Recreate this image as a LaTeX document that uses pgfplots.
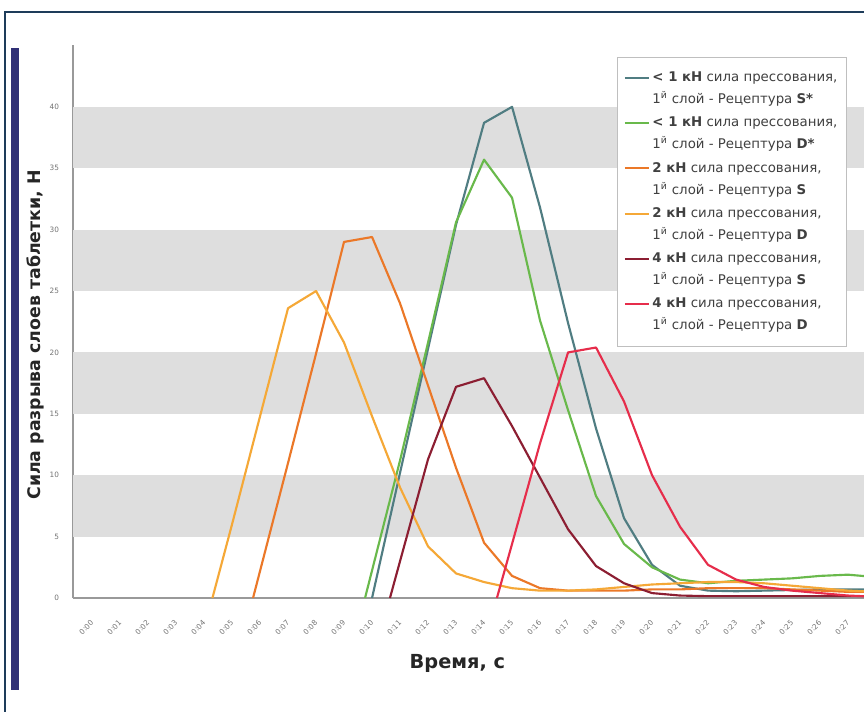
\documentclass[border=0pt]{standalone}
\usepackage{fontspec}
\setmainfont{DejaVu Sans}
\usepackage{pgfplots}
\pgfplotsset{compat=1.18}
\definecolor{cSa}{RGB}{80,125,130}
\definecolor{cDa}{RGB}{105,185,75}
\definecolor{cSb}{RGB}{235,120,40}
\definecolor{cDb}{RGB}{245,168,55}
\definecolor{cSc}{RGB}{140,30,50}
\definecolor{cDc}{RGB}{230,45,75}
\definecolor{frame}{RGB}{30,60,90}
\definecolor{bar}{RGB}{48,48,118}
\definecolor{band}{RGB}{222,222,222}
\newcommand{\legtext}[2]{\textbf{#1} сила прессования,\\1\textsuperscript{й} слой - Рецептура \textbf{#2}}
\begin{document}
\begin{tikzpicture}
\useasboundingbox (0,0) rectangle (648pt,533.25pt);
\fill[white] (0,0) rectangle (648pt,533.25pt);
\draw[frame, line width=1.6pt] (3.75pt,-2pt) -- (3.75pt,524.25pt) -- (652pt,524.25pt);
\fill[bar] (8.25pt,15.75pt) rectangle (14.25pt,497.25pt);
\begin{axis}[
  scale only axis,
  width=593.25pt, height=414.4pt,
  at={(54.75pt,84.75pt)}, anchor=south west,
  xmin=-0.68, xmax=27.57, ymin=0, ymax=45,
  axis lines*=left,
  axis line style={draw=black!40, line width=0.9pt},
  clip=true,
  ytick={0,5,...,40},
  xtick={0,...,28},
  xticklabels={0:00,0:01,0:02,0:03,0:04,0:05,0:06,0:07,0:08,0:09,0:10,0:11,0:12,0:13,0:14,0:15,0:16,0:17,0:18,0:19,0:20,0:21,0:22,0:23,0:24,0:25,0:26,0:27,0:28},
  major tick length=0pt,
  /pgf/number format/assume math mode=true,
  tick label style={text=black!55, font=\fontsize{5.5}{6}\selectfont},
  x tick label style={rotate=45, anchor=north east, xshift=-9pt, yshift=-7pt},
  y tick label style={xshift=-7pt},
  xlabel={Время, с},
  ylabel={Сила разрыва слоев таблетки, Н},
  label style={text=black!85},
  xlabel style={font=\bfseries\fontsize{14.5}{16}\selectfont, at={(axis description cs:0.486,-0.1176)}, anchor=center},
  ylabel style={font=\bfseries\fontsize{13}{15}\selectfont, at={(axis description cs:-0.048,0.476)}, anchor=center, rotate=0},
  legend style={at={(axis description cs:0.6877,0.979)}, anchor=north west,
    draw=black!25, fill=white, text=black!75,
    font=\fontsize{10}{16.5}\selectfont, row sep=4.5pt, inner xsep=5pt, inner ysep=9pt,
    cells={align=left, anchor=west},
    /tikz/every even column/.append style={column sep=3pt}},
  legend image code/.code={\draw[#1, line width=1.4pt] (0pt,8pt) -- (18pt,8pt);},
  every axis plot/.append style={line width=1.6pt, line join=round},
]
\fill[band] (axis cs:-1,5) rectangle (axis cs:29,10);
\fill[band] (axis cs:-1,15) rectangle (axis cs:29,20);
\fill[band] (axis cs:-1,25) rectangle (axis cs:29,30);
\fill[band] (axis cs:-1,35) rectangle (axis cs:29,40);

\addplot[cSa] table {
10 0
11 10.2
12 20.3
13 30.4
14 38.7
15 40.0
16 31.8
17 22.4
18 13.8
19 6.5
20 2.7
21 1.0
22 0.6
23 0.55
24 0.6
25 0.65
26 0.7
27 0.7
28 0.7
};
\addlegendentry{\legtext{< 1 кН}{S*}}

\addplot[cDa] table {
9.75 0
11 11.2
12 20.8
13 30.6
14 35.7
15 32.6
16 22.6
17 15.3
18 8.3
19 4.4
20 2.5
21 1.5
22 1.2
23 1.4
24 1.5
25 1.6
26 1.8
27 1.9
28 1.7
};
\addlegendentry{\legtext{< 1 кН}{D*}}

\addplot[cSb] table {
5.75 0
7 11.0
8 19.9
9 29.0
10 29.4
11 24.0
12 17.3
13 10.6
14 4.5
15 1.8
16 0.8
17 0.6
18 0.6
19 0.6
20 0.7
21 0.7
22 0.8
23 0.8
24 0.8
25 0.7
26 0.6
27 0.5
28 0.5
};
\addlegendentry{\legtext{2 кН}{S}}

\addplot[cDb] table {
4.3 0
5 6.0
6 14.8
7 23.6
8 25.0
9 20.8
10 14.8
11 9.0
12 4.2
13 2.0
14 1.3
15 0.8
16 0.6
17 0.6
18 0.7
19 0.9
20 1.1
21 1.2
22 1.3
23 1.3
24 1.2
25 1.0
26 0.8
27 0.6
28 0.5
};
\addlegendentry{\legtext{2 кН}{D}}

\addplot[cSc] table {
10.64 0
11 3.0
12 11.3
13 17.2
14 17.9
15 14.0
16 9.8
17 5.6
18 2.6
19 1.2
20 0.4
21 0.2
22 0.15
23 0.15
24 0.15
25 0.15
26 0.15
27 0.15
28 0.15
};
\addlegendentry{\legtext{4 кН}{S}}

\addplot[cDc] table {
14.46 0
15 4.4
16 12.6
17 20.0
18 20.4
19 16.0
20 10.0
21 5.8
22 2.7
23 1.5
24 0.9
25 0.6
26 0.4
27 0.2
28 0.1
};
\addlegendentry{\legtext{4 кН}{D}}
\end{axis}
\end{tikzpicture}
\end{document}
